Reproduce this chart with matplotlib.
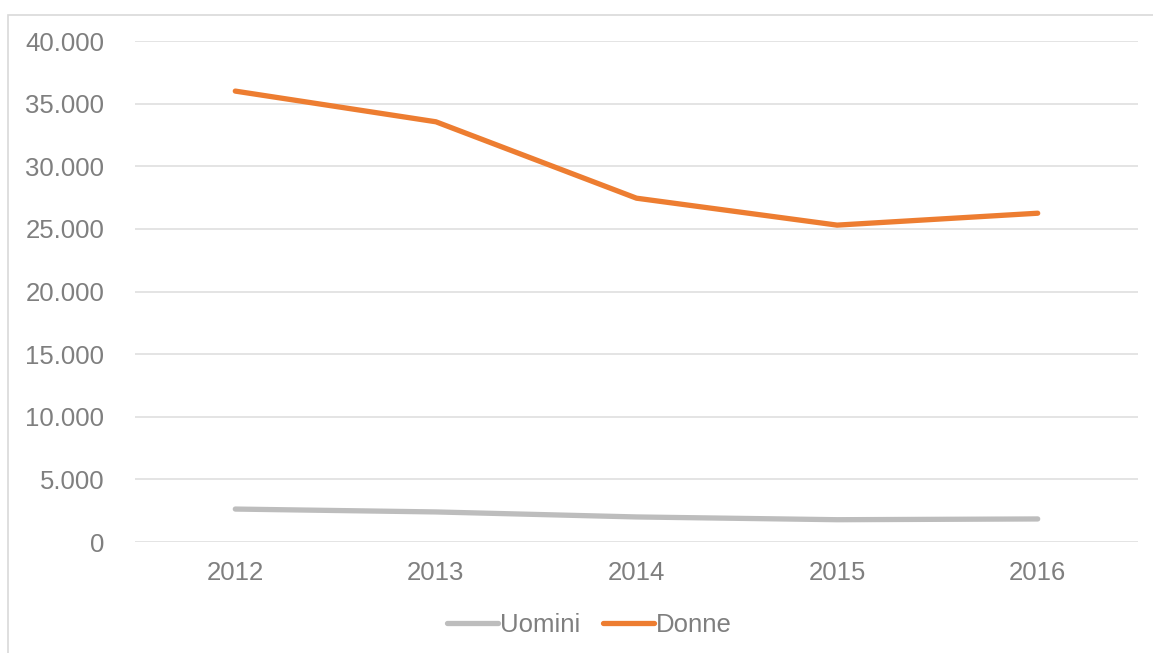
import matplotlib.pyplot as plt
from matplotlib.patches import Rectangle
from matplotlib.ticker import FuncFormatter

plt.rcParams['font.family'] = ['Liberation Sans', 'DejaVu Sans']

# Data
years = ['2012', '2013', '2014', '2015', '2016']
uomini = [2630, 2400, 2000, 1780, 1840]
donne = [36000, 33550, 27450, 25300, 26250]

text_col = '#7F7F7F'
grid_col = '#E2E2E2'

fig = plt.figure(figsize=(11.53, 6.53), dpi=100)
ax = fig.add_axes([135 / 1153, 111 / 653, 1003 / 1153, 501 / 653])

# outer chart border
fig.patches.append(Rectangle((8 / 1153, -0.1), 1.2, 1 - 15 / 653 + 0.1,
                             transform=fig.transFigure, fill=False,
                             edgecolor='#D9D9D9', linewidth=1.2))

x = range(len(years))
ax.plot(x, uomini, color='#BDBDBD', linewidth=3.8, solid_capstyle='round', label='Uomini')
ax.plot(x, donne, color='#ED7D31', linewidth=3.8, solid_capstyle='round', label='Donne')

ax.set_xlim(-0.5, len(years) - 0.5)
ax.set_ylim(0, 40000)
ax.set_yticks(range(0, 40001, 5000))
ax.yaxis.set_major_formatter(FuncFormatter(lambda v, p: f'{int(v):,}'.replace(',', '.')))
ax.set_xticks(list(x))
ax.set_xticklabels(years)

ax.grid(axis='y', color=grid_col, linewidth=1.3)
ax.set_axisbelow(True)
for s in ax.spines.values():
    s.set_visible(False)
ax.tick_params(axis='both', length=0, labelsize=18.5, labelcolor=text_col)
ax.tick_params(axis='y', pad=22)
ax.tick_params(axis='x', pad=14)

fig.legend(loc='center', bbox_to_anchor=(0.511, 28 / 653), ncol=2, frameon=False,
           fontsize=18.5, labelcolor=text_col, handlelength=2.0,
           handletextpad=0.05, columnspacing=0.9)

fig.savefig('out.png', dpi=100)
